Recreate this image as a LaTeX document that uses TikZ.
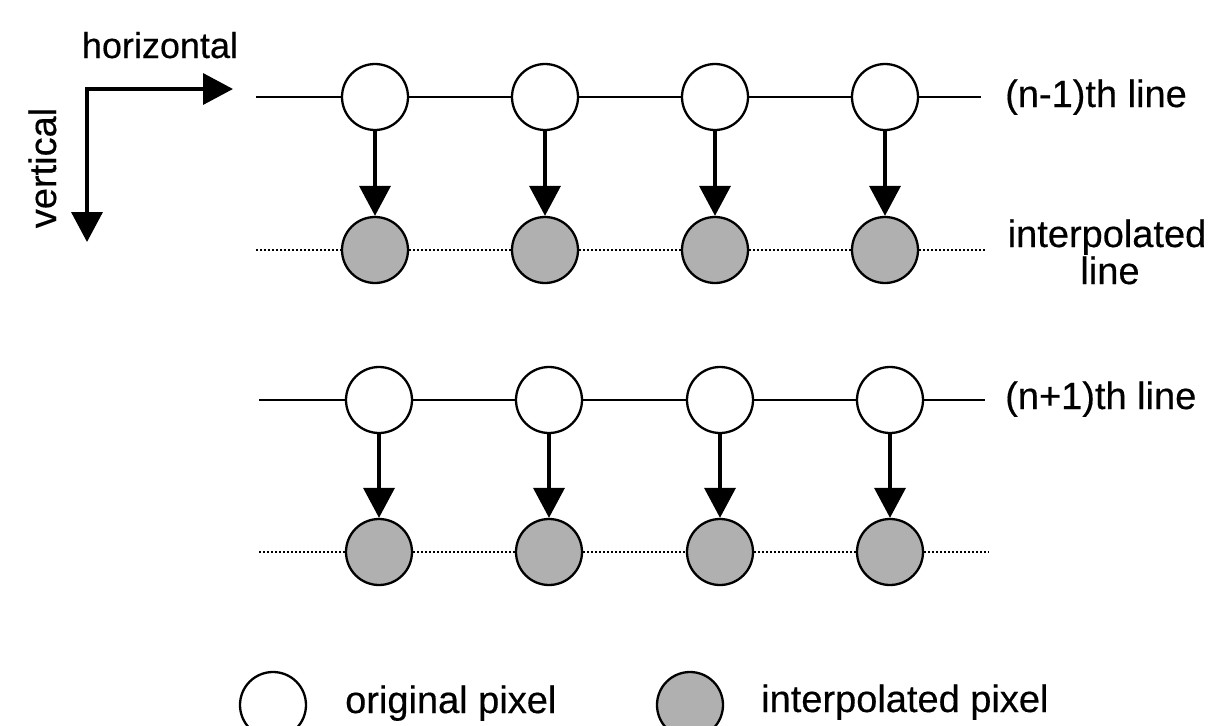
\documentclass[tikz,border=0pt]{standalone}
\usepackage{fontspec}
\setmainfont[FakeBold=0.4]{Liberation Sans}
\usetikzlibrary{arrows.meta}
\begin{document}
\begin{tikzpicture}[x=1pt,y=-1pt,
  orig/.style={circle, draw, line width=2.3pt, fill=white, minimum size=66pt, inner sep=0pt},
  interp/.style={orig, fill=black!31},
  rowline/.style={line width=1.8pt},
  dotline/.style={line width=1.6pt, dash pattern=on 1.6pt off 2.4pt},
  down/.style={line width=3.6pt, -{Triangle[length=30pt,width=31pt]}},
  lbl/.style={font=\fontsize{38}{42}\selectfont, inner sep=0pt}
]
\useasboundingbox (0,0) rectangle (1211,726);

% direction arrows
\coordinate (corner) at (87,89);
\coordinate (hend) at (233,89);
\coordinate (vend) at (87,242);
\draw[line width=3.6pt, line join=miter,
  {Triangle[length=30pt,width=31pt]}-{Triangle[length=30pt,width=31pt]}]
  (hend) -- (corner) -- (vend);
\node[lbl, font=\fontsize{36}{40}\selectfont, anchor=base] (hlbl) at (160,58) {horizontal};
\node[lbl, anchor=base, rotate=90] (vlbl) at (56,168) {vertical};

% upper pair of rows
\foreach \i/\x in {1/375, 2/545, 3/715, 4/885} {
  \node[orig] (a\i) at (\x,97) {};
  \node[interp] (b\i) at (\x,250) {};
}
% lower pair of rows
\foreach \i/\x in {1/379, 2/549, 3/720, 4/890} {
  \node[orig] (c\i) at (\x,400) {};
  \node[interp] (d\i) at (\x,552) {};
}

\coordinate (aL) at (256,97);  \coordinate (aR) at (981,97);
\coordinate (bL) at (256,250); \coordinate (bR) at (985,250);
\coordinate (cL) at (259,400); \coordinate (cR) at (985,400);
\coordinate (dL) at (259,552); \coordinate (dR) at (989,552);

\draw[rowline] (aL) -- (a1) -- (a2) -- (a3) -- (a4) -- (aR);
\draw[rowline] (cL) -- (c1) -- (c2) -- (c3) -- (c4) -- (cR);
\draw[dotline] (bL) -- (b1) (b1) -- (b2) (b2) -- (b3) (b3) -- (b4) (b4) -- (bR);
\draw[dotline] (dL) -- (d1) (d1) -- (d2) (d2) -- (d3) (d3) -- (d4) (d4) -- (dR);

\foreach \i in {1,...,4} {
  \draw[down] (a\i) -- (b\i);
  \draw[down] (c\i) -- (d\i);
}

% line labels
\node[lbl, anchor=base west] (l1) at (1005,107) {(n-1)th line};
\node[lbl, anchor=base] (l2a) at (1107,247) {interpolated};
\node[lbl, anchor=base] (l2b) at (1110,284) {line};
\node[lbl, anchor=base west] (l3) at (1005,409) {(n+1)th line};

% legend
\node[orig] (ko) at (273,705) {};
\node[lbl, anchor=base west] (kot) at (345,713) {original pixel};
\node[interp] (ki) at (690,705) {};
\node[lbl, anchor=base west] (kit) at (761,712) {interpolated pixel};
\end{tikzpicture}
\end{document}
